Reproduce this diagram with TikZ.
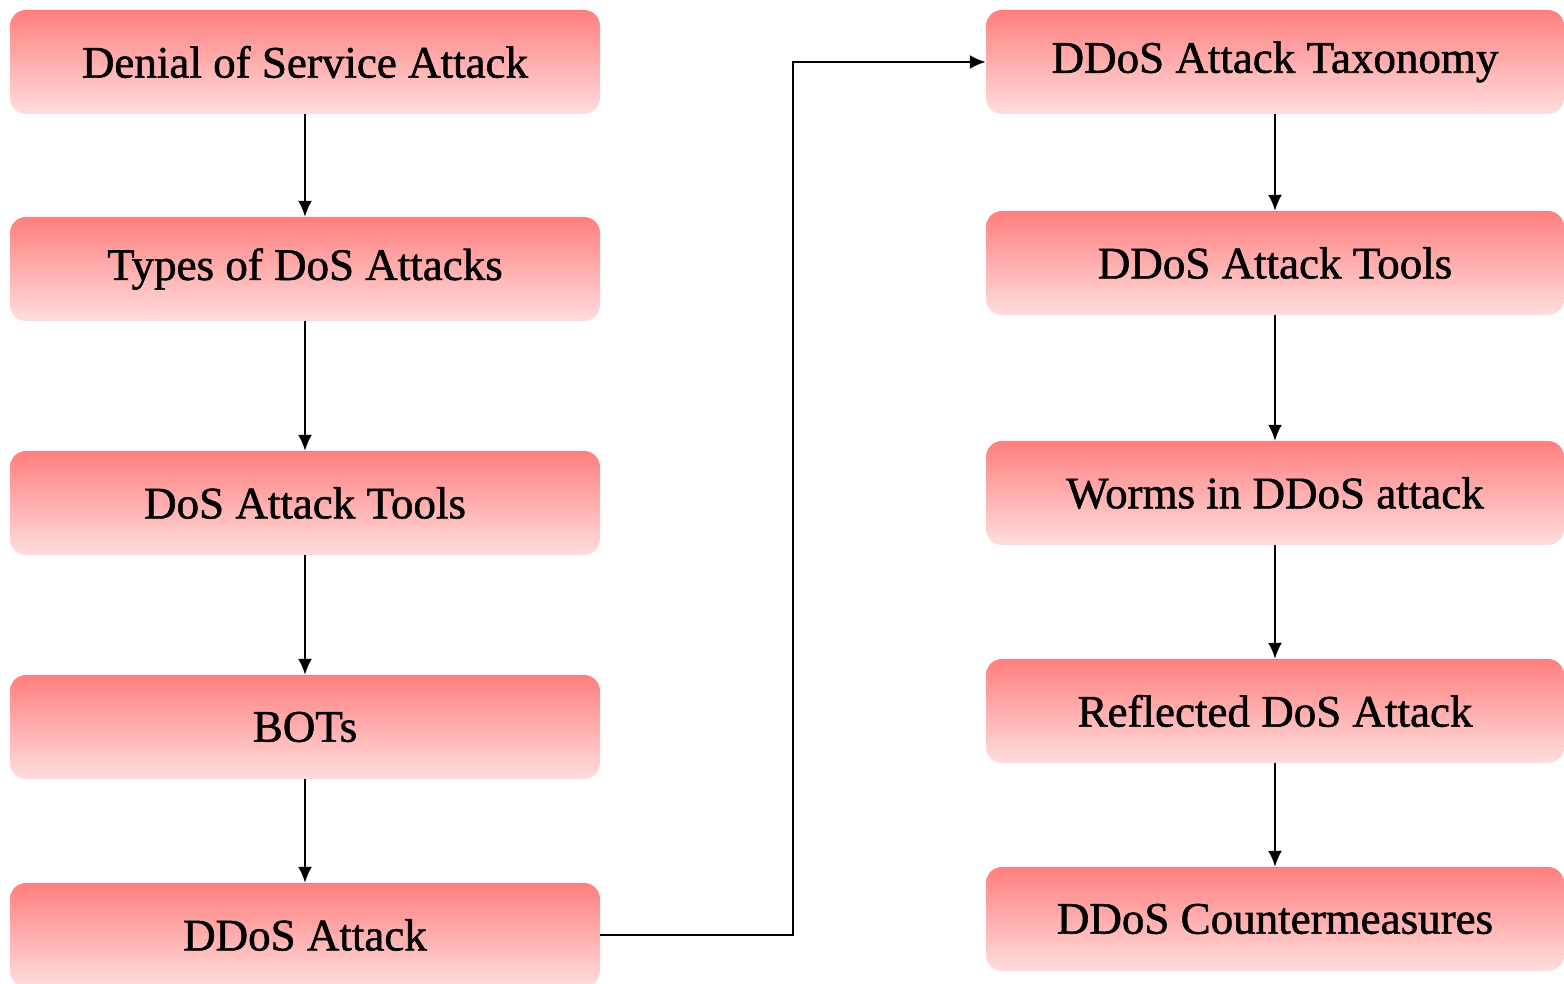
\documentclass[tikz,border=0pt]{standalone}
\usepackage{fontspec}
\setmainfont{Liberation Serif}
\newfontfamily\topicfont{Liberation Serif}[FakeBold=1.2]
\usetikzlibrary{arrows.meta}
\definecolor{boxtop}{HTML}{FF7F7F}
\definecolor{boxbottom}{HTML}{FFDDDD}
\tikzset{
  topic/.style={rounded corners=16pt, top color=boxtop, bottom color=boxbottom,
    minimum width=590pt, minimum height=104pt, inner sep=0pt,
    font=\topicfont\fontsize{45}{50}\selectfont},
  topic right/.style={topic, minimum width=578pt},
  flow/.style={-{Latex[length=16pt,width=14pt]}, line width=2.2pt},
}
\begin{document}
\begin{tikzpicture}[x=1pt,y=1pt]
  \useasboundingbox (0,0) rectangle (1564,984);

  % Left column
  \node[topic] (dos)     at (305,922) {Denial of Service Attack};
  \node[topic] (types)   at (305,715) {Types of DoS Attacks};
  \node[topic] (dostool) at (305,481) {DoS Attack Tools};
  \node[topic] (bots)    at (305,257) {BOTs};
  \node[topic] (ddos)    at (305,49)  {DDoS Attack};

  % Right column
  \node[topic right] (taxonomy) at (1275,922) {DDoS Attack Taxonomy};
  \node[topic right] (ddostool) at (1275,721) {DDoS Attack Tools};
  \node[topic right] (worms)    at (1275,491) {Worms in DDoS attack};
  \node[topic right] (reflect)  at (1275,273) {Reflected DoS Attack};
  \node[topic right] (counter)  at (1275,65)  {DDoS Countermeasures};

  % Arrows
  \draw[flow] (dos) -- (types);
  \draw[flow] (types) -- (dostool);
  \draw[flow] (dostool) -- (bots);
  \draw[flow] (bots) -- (ddos);

  \coordinate (bend) at (793,922);
  \draw[flow] (ddos.east) -| (bend) -- (taxonomy.west);

  \draw[flow] (taxonomy) -- (ddostool);
  \draw[flow] (ddostool) -- (worms);
  \draw[flow] (worms) -- (reflect);
  \draw[flow] (reflect) -- (counter);
\end{tikzpicture}
\end{document}
